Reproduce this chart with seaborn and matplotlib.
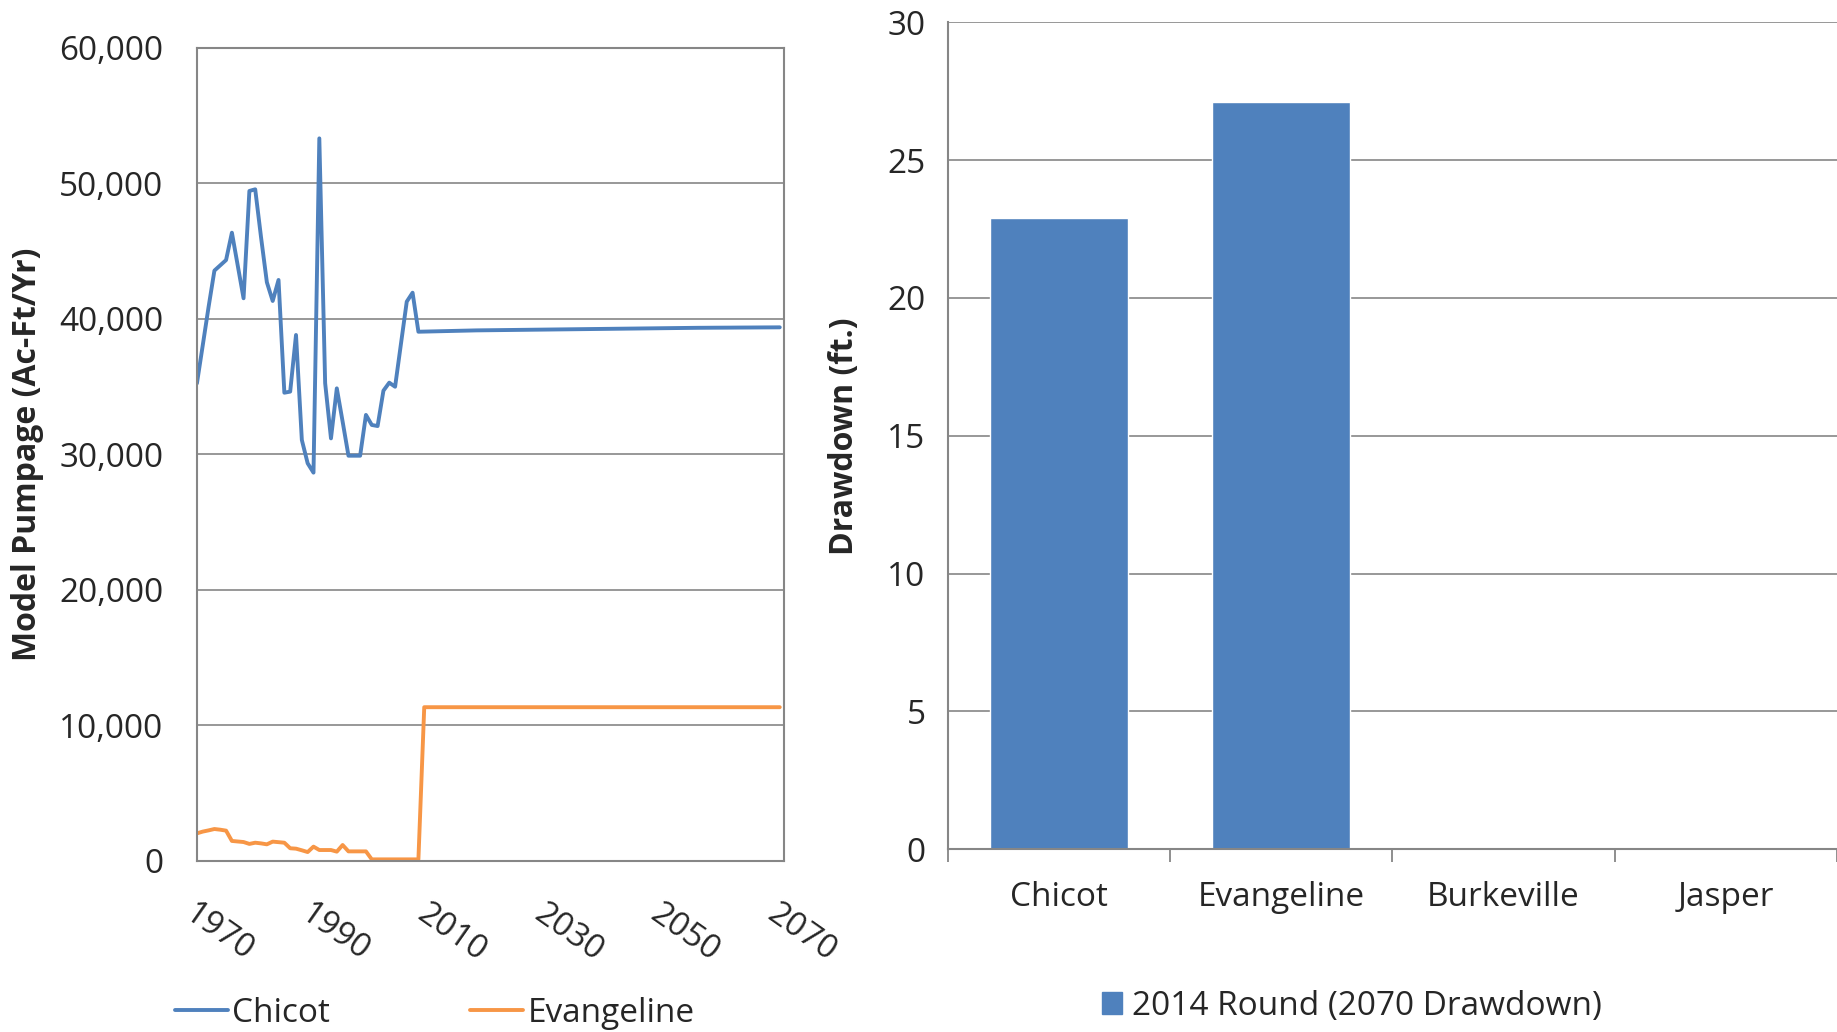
import numpy as np
import pandas as pd
import matplotlib
matplotlib.use("Agg")
import matplotlib.pyplot as plt
import seaborn as sns

# --- data ---
years = list(range(1970, 2071))

chicot = [
    35250, 38060, 40890, 43570, 43960, 44350, 46370, 43950, 41530, 49450,  # 1970-1979
    49570, 46030, 42710, 41330, 42880, 34560, 34640, 38820, 31070, 29350,  # 1980-1989
    28660, 53330, 35260, 31190, 34880, 32420, 29910, 29910, 29910, 32920,  # 1990-1999
    32180, 32100, 34710, 35300, 35000, 38150, 41280, 41940, 39060, 39070,  # 2000-2009
    39080, 39090, 39100, 39110, 39120, 39130, 39140, 39150, 39160, 39165,
    39170, 39175, 39180, 39185, 39190, 39195, 39200, 39205, 39210, 39215,
    39220, 39225, 39230, 39235, 39240, 39245, 39250, 39255, 39260, 39265,
    39270, 39275, 39280, 39285, 39290, 39295, 39300, 39305, 39310, 39315,
    39320, 39325, 39330, 39335, 39340, 39345, 39350, 39352, 39355, 39358,
    39360, 39362, 39365, 39368, 39370, 39372, 39375, 39378, 39380, 39382,
    39385,
]

evangeline = [
    2040, 2170, 2260, 2360, 2310, 2240, 1480, 1440, 1400, 1260,  # 1970-1979
    1350, 1300, 1230, 1430, 1390, 1350, 940, 910, 790, 660,       # 1980-1989
    1060, 810, 810, 810, 690, 1180, 710, 710, 710, 710,           # 1990-1999
    120, 120, 120, 120, 120, 120, 120, 120, 120, 11350,           # 2000-2009
    11350, 11350, 11350, 11350, 11350, 11350, 11350, 11350, 11350, 11350,
    11350, 11350, 11350, 11350, 11350, 11350, 11350, 11350, 11350, 11350,
    11350, 11350, 11350, 11350, 11350, 11350, 11350, 11350, 11350, 11350,
    11350, 11350, 11350, 11350, 11350, 11350, 11350, 11350, 11350, 11350,
    11350, 11350, 11350, 11350, 11350, 11350, 11350, 11350, 11350, 11350,
    11350, 11350, 11350, 11350, 11350, 11350, 11350, 11350, 11350, 11350,
    11350,
]

aquifers = ["Chicot", "Evangeline", "Burkeville", "Jasper"]
drawdown = [22.9, 27.1, 0.0, 0.0]

BLUE = "#4F81BD"
ORANGE = "#F79646"
GRID = "#868686"

sns.set_style("white")
plt.rcParams["font.family"] = ["Open Sans", "DejaVu Sans"]

fig = plt.figure(figsize=(18.37, 10.32), dpi=100)

# --- left: pumpage lines ---
ax1 = fig.add_axes([0.1072, 0.1657, 0.3195, 0.7878])
df = pd.DataFrame({"Year": years * 2,
                   "Pumpage": chicot + evangeline,
                   "Aquifer": ["Chicot"] * len(years) + ["Evangeline"] * len(years)})
sns.lineplot(data=df, x="Year", y="Pumpage", hue="Aquifer",
             palette=[BLUE, ORANGE], linewidth=2.8, ax=ax1, legend=False)
ax1.set_xlim(1970, 2070.7)
ax1.set_ylim(0, 60000)
ax1.set_xticks(range(1970, 2071, 20))
ax1.set_yticks(range(0, 60001, 10000))
ax1.set_yticklabels([f"{v:,}" for v in range(0, 60001, 10000)])
ax1.grid(axis="y", color=GRID, linewidth=1.2)
for s in ax1.spines.values():
    s.set_color(GRID)
    s.set_linewidth(1.5)
ax1.tick_params(axis="y", length=0, pad=24, labelsize=24)
ax1.tick_params(axis="x", length=0, pad=26, labelsize=24)
for lab in ax1.get_xticklabels():
    lab.set_rotation(-35)
    lab.set_ha("left")
    lab.set_va("top")
    lab.set_rotation_mode("anchor")
ax1.set_xlabel("")
ax1.set_ylabel("Model Pumpage (Ac-Ft/Yr)", fontsize=23, fontweight="bold")
ax1.yaxis.set_label_coords(-0.26, 0.5)

handles = [plt.Line2D([], [], color=BLUE, lw=2.8), plt.Line2D([], [], color=ORANGE, lw=2.8)]
fig.legend(handles, ["Chicot", "Evangeline"], loc="center left",
           bbox_to_anchor=(0.079, 0.018), ncol=2, frameon=False, fontsize=24,
           handlelength=1.58, handletextpad=0.14, columnspacing=4.2)

# --- right: drawdown bars ---
ax2 = fig.add_axes([0.516, 0.177, 0.484, 0.8014])
bars = pd.DataFrame({"Aquifer": aquifers, "Drawdown": drawdown})
sns.barplot(data=bars, x="Aquifer", y="Drawdown", color=BLUE, saturation=1,
            width=0.62, ax=ax2)
ax2.set_xlim(-0.5, 3.5)
ax2.set_ylim(0, 30)
ax2.set_yticks(range(0, 31, 5))
ax2.grid(axis="y", color=GRID, linewidth=1.2)
ax2.set_axisbelow(True)
for name, s in ax2.spines.items():
    s.set_color(GRID)
    s.set_linewidth(1.5)
ax2.spines["top"].set_visible(False)
ax2.spines["right"].set_visible(False)
ax2.set_xticks([-0.5, 0.5, 1.5, 2.5, 3.5], minor=True)
ax2.tick_params(axis="x", which="minor", length=9, width=1.3, color=GRID, bottom=True)
ax2.tick_params(axis="x", which="major", length=0, pad=23, labelsize=24)
ax2.tick_params(axis="y", length=0, pad=16, labelsize=24)
ax2.set_xlabel("")
ax2.set_ylabel("Drawdown (ft.)", fontsize=23, fontweight="bold")
ax2.yaxis.set_label_coords(-0.098, 0.5)

patch = plt.Rectangle((0, 0), 1, 1, color=BLUE)
fig.legend([patch], ["2014 Round (2070 Drawdown)"], loc="center left",
           bbox_to_anchor=(0.5836, 0.025), frameon=False, fontsize=24,
           handlelength=0.6, handleheight=0.6, handletextpad=0.3)

fig.savefig("out.png", dpi=100)
